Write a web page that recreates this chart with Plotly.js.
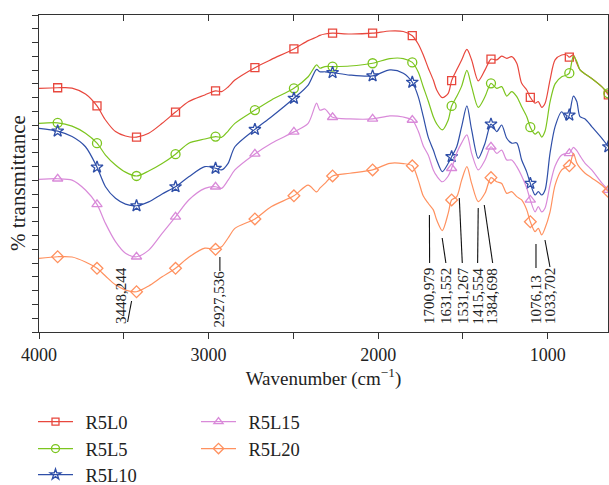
<!DOCTYPE html>
<html>
<head>
<meta charset="utf-8">
<script src="https://cdn.plot.ly/plotly-3.0.1.min.js"></script>
<style>html,body{margin:0;padding:0;background:#fff;}#chart{width:609px;height:485px;}</style>
</head>
<body>
<div id="chart"></div>
<script>
// Wavenumber grid (cm^-1)
const wavenumber = [4000, 3890, 3805, 3726, 3658, 3608, 3549, 3490, 3425, 3353,
  3274, 3195, 3117, 3022, 2959, 2924, 2885, 2845, 2727, 2629,
  2497, 2413, 2363, 2344, 2314, 2269, 2167, 2033, 1931, 1852,
  1799, 1764, 1734, 1705, 1675, 1655, 1622, 1587, 1567, 1537,
  1508, 1477, 1449, 1410, 1370, 1335, 1301, 1272, 1242, 1213,
  1183, 1154, 1124, 1103, 1075, 1056, 1036, 1016, 987, 957,
  918, 888, 873, 849, 829, 810, 780, 741, 682, 643];

// % transmittance (offset, arbitrary units)
const R5L0 = [88.4, 88.6, 88.5, 86.3, 82.0, 76.9, 72.7, 71.1, 70.7, 72.1,
  75.7, 79.8, 83.6, 86.0, 87.5, 87.2, 88.9, 91.4, 95.9, 98.9,
  102.7, 105.7, 107.0, 107.6, 108.1, 108.4, 108.1, 108.4, 109.2, 109.0,
  107.5, 104.5, 100.5, 95.8, 91.4, 87.8, 85.0, 86.6, 91.2, 95.1,
  98.7, 102.5, 98.7, 91.1, 95.1, 99.0, 98.7, 100.1, 99.3, 99.9,
  97.5, 90.2, 87.8, 85.1, 83.0, 83.6, 81.5, 83.0, 91.4, 98.7,
  100.5, 100.5, 99.7, 100.5, 97.5, 95.1, 93.6, 92.0, 89.0, 86.0];
const R5L5 = [75.7, 75.9, 74.7, 72.1, 68.5, 64.2, 60.6, 58.0, 56.6, 58.4,
  61.1, 64.5, 68.5, 70.0, 70.9, 70.6, 72.9, 75.7, 80.5, 84.2,
  88.4, 92.6, 96.9, 95.7, 96.3, 96.3, 96.5, 97.5, 99.2, 99.2,
  97.8, 94.3, 88.9, 83.8, 78.1, 75.5, 73.3, 76.9, 82.0, 85.4,
  89.2, 94.9, 89.0, 81.5, 85.4, 90.2, 88.4, 89.0, 85.6, 87.2,
  85.4, 81.7, 78.1, 74.3, 71.8, 72.6, 70.7, 72.9, 83.4, 90.0,
  92.6, 93.2, 93.9, 100.1, 98.1, 95.1, 93.6, 92.0, 89.0, 86.6];
const R5L10 = [73.9, 72.9, 70.9, 67.2, 59.8, 52.7, 48.5, 46.4, 45.8, 47.2,
  50.1, 52.7, 56.3, 60.0, 59.4, 58.8, 61.2, 67.2, 73.5, 78.1,
  84.8, 89.6, 95.3, 94.4, 94.4, 94.1, 93.2, 92.9, 95.1, 93.9,
  90.6, 85.4, 78.1, 70.7, 66.0, 62.4, 58.2, 61.2, 63.6, 67.2,
  74.5, 82.0, 73.3, 63.0, 68.5, 75.4, 72.7, 75.1, 70.3, 68.5,
  68.6, 62.4, 58.0, 53.9, 49.7, 50.9, 49.7, 51.5, 64.8, 74.5,
  79.9, 76.9, 78.7, 85.6, 83.6, 78.1, 77.3, 74.5, 70.3, 67.2];
const R5L15 = [55.4, 55.6, 55.1, 51.5, 46.3, 39.4, 32.8, 28.6, 27.3, 29.7,
  35.8, 41.8, 47.9, 52.1, 52.7, 52.1, 55.1, 58.8, 64.6, 68.5,
  72.6, 75.7, 83.0, 80.5, 80.9, 77.9, 77.3, 77.3, 78.4, 78.0,
  76.9, 72.9, 67.5, 64.2, 58.8, 56.6, 54.5, 56.6, 59.4, 64.9,
  68.6, 71.5, 64.8, 58.8, 62.4, 67.2, 64.8, 66.0, 62.4, 62.4,
  60.0, 56.6, 52.2, 47.9, 43.6, 45.5, 43.6, 45.0, 53.3, 60.2,
  64.2, 64.8, 64.8, 67.0, 65.8, 63.9, 61.2, 58.8, 54.1, 51.5];
const R5L20 = [26.7, 27.3, 27.2, 25.4, 23.1, 20.3, 17.1, 15.2, 14.6, 16.7,
  20.0, 23.1, 27.1, 30.4, 30.0, 30.9, 34.1, 37.6, 41.0, 45.5,
  49.4, 53.3, 50.8, 52.2, 53.9, 56.6, 57.6, 58.8, 61.2, 61.1,
  60.3, 55.1, 49.3, 46.7, 44.3, 40.6, 36.8, 43.1, 47.9, 49.1,
  55.1, 60.0, 53.9, 47.3, 50.4, 56.0, 54.5, 53.9, 50.3, 50.9,
  49.1, 47.9, 44.3, 40.0, 36.4, 37.6, 35.2, 37.7, 43.5, 53.3,
  58.8, 60.0, 60.3, 64.8, 61.3, 59.5, 57.6, 55.9, 53.3, 50.9];

// wavenumbers where symbols are drawn
const markerWn = [3890, 3658, 3425, 3195, 2959, 2727, 2497, 2269, 2033, 1799, 1567, 1335, 1103, 873, 643];

const seriesNames = ['R5L0', 'R5L5', 'R5L10', 'R5L15', 'R5L20'];

// peak labels
const peakWn = [3448.244, 2927.536, 1700.979, 1631.552, 1531.267, 1415.554, 1384.698, 1076.13, 1033.702];
const peakText = ['3448,244', '2927,536', '1700,979', '1631,552', '1531,267', '1415,554', '1384,698', '1076,13', '1033,702'];

const yTitle = '% transmittance';
const xTitle = 'Wavenumber (cm<sup>−1</sup>)';

// ---- styles ----
const seriesData = [R5L0, R5L5, R5L10, R5L15, R5L20];
const colors = ['#e8473d', '#7cc51f', '#2f4fa8', '#d98ad9', '#ff915f'];
const symbols = ['square-open', 'circle-open', 'star-open', 'triangle-up-open', 'diamond-open'];
const sizes = [8, 9, 9, 9, 9];
// leader lines [dxTop, yTop, dxBottom, yBottom] px relative to peak x / plot bottom
const leader = [[-1, 31, -5, 10], [-1, 75, -1, 61], [0.5, 117, 0.7, 69], [1.5, 94, 5.2, 69],
  [1.6, 134, 4.6, 69], [0.9, 124, 0.3, 69], [1.7, 127, 10.1, 69], [1.1, 88, 1.1, 64], [2.9, 92, 7.9, 65]];
const textDx = [-12, -2, 0, 5.2, 4.8, 0.6, 9.9, 0.6, 7.9];
const textBottom = [6, 3, 6, 6, 6, 6, 6, 6, 6];
const legendPos = [[33, 422], [33, 449], [33, 475], [196, 422], [196, 449]];

const font = 'Liberation Serif, Times New Roman, serif';
const traces = [];
seriesData.forEach((vals, i) => {
  traces.push({
    x: wavenumber, y: vals, mode: 'lines', type: 'scatter',
    line: {color: colors[i], width: 1.2, shape: 'spline', smoothing: 0.8},
    showlegend: false, hoverinfo: 'skip'
  });
  traces.push({
    x: markerWn, y: markerWn.map(w => vals[wavenumber.indexOf(w)]),
    mode: 'markers', type: 'scatter',
    marker: {symbol: symbols[i], size: sizes[i], color: colors[i], line: {width: 1.3, color: colors[i]}},
    showlegend: false, hoverinfo: 'skip'
  });
});
// legend entries
seriesData.forEach((vals, i) => {
  traces.push({
    x: [null], y: [null], xaxis: 'x2', mode: 'lines+markers', type: 'scatter',
    name: '\u2009\u2009' + seriesNames[i],
    line: {color: colors[i], width: 1.2},
    marker: {symbol: symbols[i], size: sizes[i] - 1, color: colors[i], line: {width: 1.3, color: colors[i]}},
    legend: i === 0 ? 'legend' : 'legend' + (i + 1)
  });
});

const annotations = peakWn.map((w, i) => ({
  x: w, xref: 'x', xshift: textDx[i], y: 0, yref: 'paper', yshift: textBottom[i],
  xanchor: 'center', yanchor: 'bottom', textangle: -90, showarrow: false,
  text: peakText[i], font: {family: font, size: 15, color: '#222'}
}));
annotations.push({
  text: yTitle, xref: 'paper', yref: 'paper', x: -0.037, y: 0.47,
  xanchor: 'center', yanchor: 'middle', textangle: -90, showarrow: false,
  font: {family: font, size: 21, color: '#222'}
});

const layout = {
  width: 609, height: 485,
  margin: {l: 39, r: 1, t: 15, b: 153, autoexpand: false},
  paper_bgcolor: '#fff', plot_bgcolor: '#fff',
  font: {family: font, color: '#222', size: 18},
  xaxis: {
    range: [4000, 645], tick0: 0, dtick: 1000,
    ticks: 'outside', ticklen: 6, tickwidth: 1, tickcolor: '#333',
    minor: {tick0: 0, dtick: 500, ticks: 'outside', ticklen: 6, tickwidth: 1, tickcolor: '#333', showgrid: false},
    showline: true, linecolor: '#333', linewidth: 1, mirror: true,
    showgrid: false, zeroline: false,
    tickfont: {family: font, size: 18, color: '#222'},
    title: {text: xTitle, font: {family: font, size: 19, color: '#222'}, standoff: 8}
  },
  xaxis2: {
    overlaying: 'x', side: 'top', anchor: 'y', range: [4000, 645], tick0: 0, dtick: 500,
    ticks: 'inside', ticklen: 6, tickwidth: 1, tickcolor: '#333',
    showticklabels: false, showline: false, showgrid: false, zeroline: false
  },
  yaxis: {
    range: [0, 115], tick0: 0, dtick: 5,
    ticks: 'outside', ticklen: 6, tickwidth: 1, tickcolor: '#333',
    showticklabels: false, showline: true, linecolor: '#333', linewidth: 1, mirror: true,
    showgrid: false, zeroline: false
  },
  shapes: peakWn.map((w, i) => ({
    type: 'line', xref: 'x', yref: 'paper', xsizemode: 'pixel', xanchor: w,
    ysizemode: 'pixel', yanchor: 0,
    x0: leader[i][0], y0: leader[i][1], x1: leader[i][2], y1: leader[i][3],
    line: {color: '#111', width: 1.1}
  })),
  annotations: annotations
};
legendPos.forEach((p, i) => {
  const key = i === 0 ? 'legend' : 'legend' + (i + 1);
  layout[key] = {
    xref: 'container', yref: 'container', x: p[0] / 609, y: 1 - p[1] / 485,
    xanchor: 'left', yanchor: 'middle', bgcolor: 'rgba(0,0,0,0)', borderwidth: 0,
    itemwidth: 35, font: {family: font, size: 18.5, color: '#222'}
  };
});

Plotly.newPlot('chart', traces, layout, {staticPlot: true, displayModeBar: false});
</script>
</body>
</html>
